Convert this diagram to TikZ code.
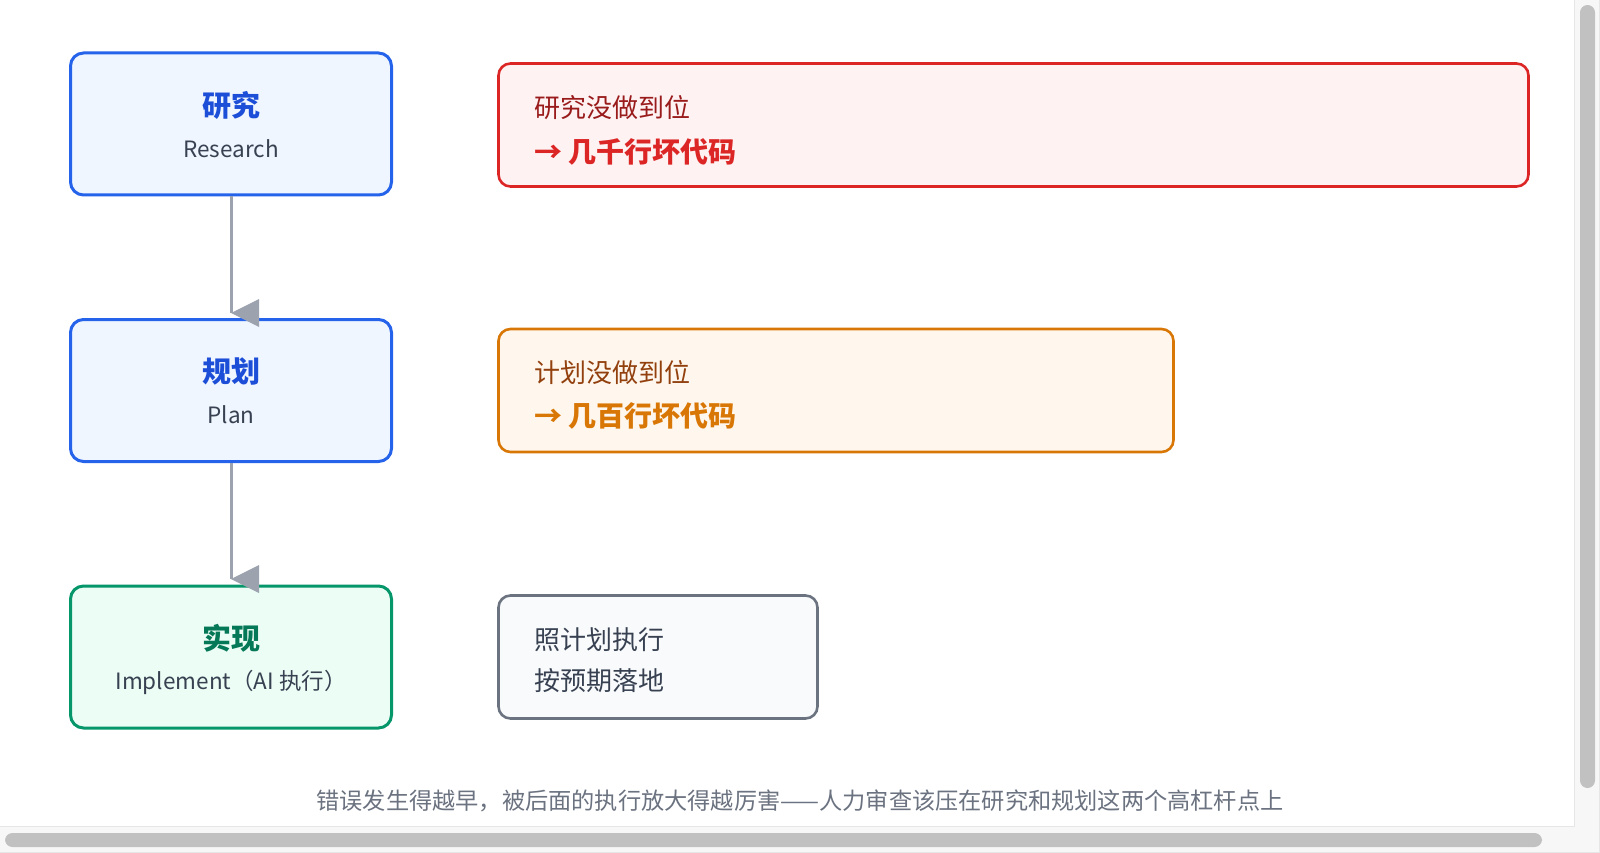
\documentclass[tikz,border=0pt]{standalone}
\usepackage{fontspec}
\setmainfont{Noto Sans CJK SC}
\definecolor{blueB}{HTML}{2563EB}
\definecolor{blueF}{HTML}{EFF6FF}
\definecolor{blueT}{HTML}{1D4ED8}
\definecolor{greenB}{HTML}{059669}
\definecolor{greenF}{HTML}{ECFDF5}
\definecolor{greenT}{HTML}{047857}
\definecolor{subC}{HTML}{374151}
\definecolor{connC}{HTML}{9CA3AF}
\definecolor{redB}{HTML}{DC2626}
\definecolor{redF}{HTML}{FEF2F2}
\definecolor{redT}{HTML}{991B1B}
\definecolor{orB}{HTML}{D97706}
\definecolor{orF}{HTML}{FFF7ED}
\definecolor{orT}{HTML}{92400E}
\definecolor{grayB}{HTML}{6B7280}
\definecolor{grayF}{HTML}{F9FAFB}
\definecolor{capC}{HTML}{6B7280}
\definecolor{sbBg}{HTML}{F7F7F7}
\definecolor{sbLine}{HTML}{E6E6E6}
\definecolor{sbThumb}{HTML}{C1C1C1}
\tikzset{
  stagebox/.style={draw, rounded corners=13pt, line width=3pt, minimum width=321pt, minimum height=142pt, inner sep=0pt},
  notebox/.style={draw, rounded corners=12pt, line width=2.6pt, minimum height=123pt, inner sep=0pt},
  titletext/.style={inner sep=0pt, font=\fontsize{29}{34}\selectfont\bfseries},
  subtext/.style={inner sep=0pt, text=subC, font=\fontsize{22.5}{26}\selectfont},
  linetext/.style={inner sep=0pt, anchor=west, font=\fontsize{26}{30}\selectfont},
  boldtext/.style={inner sep=0pt, anchor=west, font=\fontsize{28}{32}\selectfont\bfseries},
  conn/.style={draw=connC, line width=3pt},
  connhead/.style={fill=connC},
  captext/.style={inner sep=0pt, text=capC, font=\fontsize{23.2}{27}\selectfont},
  thumb/.style={fill=sbThumb, rounded corners=7.5pt}
}
\begin{document}
\begin{tikzpicture}[x=1pt,y=-1pt]
\useasboundingbox (0,0) rectangle (1600,853);
\fill[white] (0,0) rectangle (1600,853);

% stage boxes
\node[stagebox, draw=blueB, fill=blueF] (research) at (231,124) {};
\node[titletext, text=blueT] (researchT) at (231,105) {研究};
\node[subtext] (researchS) at (231,149) {Research};

\node[stagebox, draw=blueB, fill=blueF] (plan) at (231,390.5) {};
\node[titletext, text=blueT] (planT) at (231,371) {规划};
\node[subtext] (planS) at (231,415) {Plan};

\node[stagebox, draw=greenB, fill=greenF] (impl) at (231,657) {};
\node[titletext, text=greenT] (implT) at (231,638) {实现};
\node[subtext] (implS) at (231,682) {Implement（AI 执行）};

% note boxes
\node[notebox, draw=redB, fill=redF, minimum width=1030pt] (redbox) at (1013.5,125) {};
\node[linetext, text=redT] (red1) at (534,108) {研究没做到位};
\node[boldtext, text=redB] (red2) at (534,152) {→ 几千行坏代码};

\node[notebox, draw=orB, fill=orF, minimum width=675pt] (orbox) at (836,390.5) {};
\node[linetext, text=orT] (or1) at (534,373) {计划没做到位};
\node[boldtext, text=orB] (or2) at (534,416) {→ 几百行坏代码};

\node[notebox, draw=grayB, fill=grayF, minimum width=319pt] (graybox) at (658,657) {};
\node[linetext, text=subC] (gray1) at (534,640) {照计划执行};
\node[linetext, text=subC] (gray2) at (534,681) {按预期落地};

% connectors
\coordinate (tip1) at (231,313);
\coordinate (tip2) at (231,579);
\draw[conn] (research.south) -- (tip1);
\fill[connhead] (tip1) -- ++(28,-14) -- ++(0,28) -- cycle;
\draw[conn] (plan.south) -- (tip2);
\fill[connhead] (tip2) -- ++(28,-14) -- ++(0,28) -- cycle;

% caption
\node[captext] (cap) at (800,801) {错误发生得越早，被后面的执行放大得越厉害——人力审查该压在研究和规划这两个高杠杆点上};

% scrollbars
\fill[sbBg] (1574,0) rectangle (1600,853);
\fill[sbBg] (0,826) rectangle (1600,853);
\draw[sbLine, line width=1.2pt] (1574.5,0) -- (1574.5,826.5) -- (0,826.5);
\draw[sbLine, line width=1pt] (1599.5,0) -- (1599.5,852.5) -- (0,852.5);
\fill[thumb] (1580,5) rectangle (1595,788);
\fill[thumb] (5,833) rectangle (1542,847);
\end{tikzpicture}
\end{document}
